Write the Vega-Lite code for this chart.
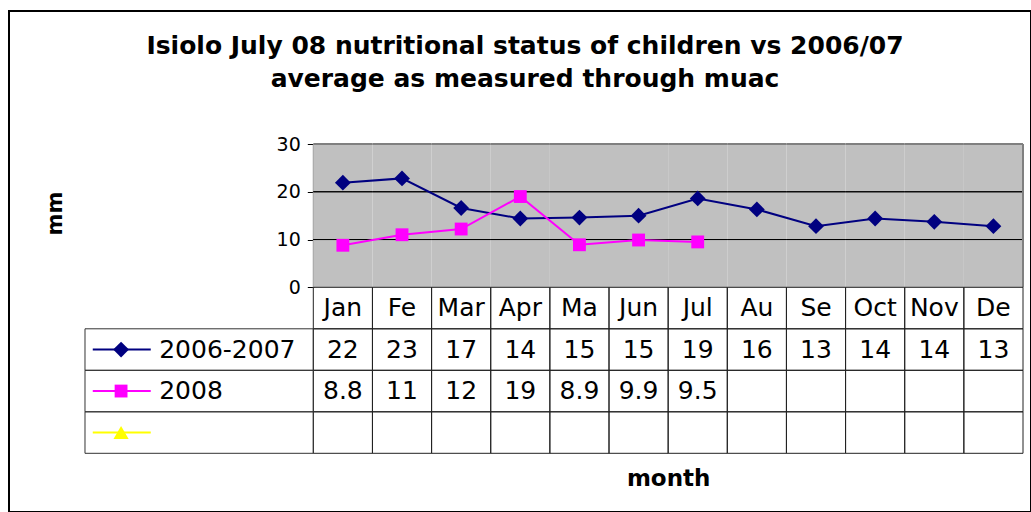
{
  "$schema": "https://vega.github.io/schema/vega-lite/v6.json",
  "width": 1022,
  "height": 501,
  "autosize": {"type": "none"},
  "padding": {"left": 9, "top": 11, "right": 0, "bottom": 0},
  "background": "#ffffff",
  "config": {
    "font": "DejaVu Sans",
    "view": {"stroke": "#000000", "strokeWidth": 2},
    "text": {"font": "DejaVu Sans", "color": "#000000"}
  },
  "title": {
    "text": ["Isiolo July 08  nutritional status of children vs 2006/07", "average as measured  through muac"],
    "fontSize": 25,
    "fontWeight": "bold",
    "font": "DejaVu Sans",
    "color": "#000000",
    "anchor": "middle",
    "frame": "group",
    "baseline": "top",
    "offset": -81,
    "lineHeight": 33,
    "dx": 5
  },
  "datasets": {
    "muac": [
      {"month": "Jan", "series": "2006-2007", "value": 21.9},
      {"month": "Fe", "series": "2006-2007", "value": 22.8},
      {"month": "Mar", "series": "2006-2007", "value": 16.6},
      {"month": "Apr", "series": "2006-2007", "value": 14.4},
      {"month": "Ma", "series": "2006-2007", "value": 14.6},
      {"month": "Jun", "series": "2006-2007", "value": 15.0},
      {"month": "Jul", "series": "2006-2007", "value": 18.6},
      {"month": "Au", "series": "2006-2007", "value": 16.3},
      {"month": "Se", "series": "2006-2007", "value": 12.8},
      {"month": "Oct", "series": "2006-2007", "value": 14.4},
      {"month": "Nov", "series": "2006-2007", "value": 13.7},
      {"month": "De", "series": "2006-2007", "value": 12.8},
      {"month": "Jan", "series": "2008", "value": 8.8},
      {"month": "Fe", "series": "2008", "value": 11},
      {"month": "Mar", "series": "2008", "value": 12.2},
      {"month": "Apr", "series": "2008", "value": 19},
      {"month": "Ma", "series": "2008", "value": 8.9},
      {"month": "Jun", "series": "2008", "value": 9.9},
      {"month": "Jul", "series": "2008", "value": 9.5}
    ],
    "keys": [
      {"series": "2006-2007", "label": "2006-2007"},
      {"series": "2008", "label": "2008"},
      {"series": "Series3", "label": ""}
    ]
  },
  "resolve": {"scale": {"x": "independent", "y": "independent"}},
  "layer": [
    {
      "data": {"name": "muac"},
      "transform": [{"filter": "datum.series === '2006-2007'"}],
      "mark": {"type": "rect", "fill": "#c0c0c0", "strokeWidth": 0},
      "encoding": {
        "x": {"field": "month", "type": "nominal", "sort": null, "axis": null,
              "scale": {"type": "band", "domain": ["Jan","Fe","Mar","Apr","Ma","Jun","Jul","Au","Se","Oct","Nov","De"], "range": [304.3, 1014], "paddingInner": 0, "paddingOuter": 0}},
        "y": {"datum": 0, "type": "quantitative",
              "scale": {"type": "linear", "domain": [0, 30], "range": [276.3, 133], "nice": false, "zero": false},
              "axis": {"orient": "left", "offset": -304.3, "values": [0, 10, 20, 30], "grid": false,
                       "tickSize": 6, "tickColor": "#000000", "tickWidth": 1,
                       "domainColor": "#808080", "domainWidth": 2,
                       "labelFontSize": 19, "labelColor": "#000000", "labelPadding": 7, "labelFont": "DejaVu Sans",
                       "title": "mm", "titleFontSize": 21, "titleFontWeight": "bold", "titleColor": "#000000", "titleFont": "DejaVu Sans",
                       "titleAngle": -90, "titleX": -258, "titleY": 202, "titleAlign": "center", "titleBaseline": "middle"}},
        "y2": {"datum": 30}
      }
    },
    {
      "data": {"name": "muac"},
      "transform": [{"filter": "datum.series === '2006-2007'"}],
      "mark": {"type": "rect", "filled": false, "stroke": "#000000", "strokeWidth": 1},
      "encoding": {
        "x": {"field": "month", "type": "nominal", "sort": null, "axis": null,
              "scale": {"type": "band", "domain": ["Jan","Fe","Mar","Apr","Ma","Jun","Jul","Au","Se","Oct","Nov","De"], "range": [304.3, 1014], "paddingInner": 0, "paddingOuter": 0}},
        "y": {"datum": 10, "type": "quantitative", "axis": null,
              "scale": {"type": "linear", "domain": [0, 30], "range": [276.3, 133], "nice": false, "zero": false}},
        "y2": {"datum": 10}
      }
    },
    {
      "data": {"name": "muac"},
      "transform": [{"filter": "datum.series === '2006-2007'"}],
      "mark": {"type": "rect", "filled": false, "stroke": "#000000", "strokeWidth": 1},
      "encoding": {
        "x": {"field": "month", "type": "nominal", "sort": null, "axis": null,
              "scale": {"type": "band", "domain": ["Jan","Fe","Mar","Apr","Ma","Jun","Jul","Au","Se","Oct","Nov","De"], "range": [304.3, 1014], "paddingInner": 0, "paddingOuter": 0}},
        "y": {"datum": 20, "type": "quantitative", "axis": null,
              "scale": {"type": "linear", "domain": [0, 30], "range": [276.3, 133], "nice": false, "zero": false}},
        "y2": {"datum": 20}
      }
    },
    {
      "data": {"name": "muac"},
      "transform": [{"filter": "datum.series === '2006-2007'"}],
      "mark": {"type": "rect", "filled": false, "stroke": "#808080", "strokeWidth": 2},
      "encoding": {
        "x": {"field": "month", "type": "nominal", "sort": null, "axis": null,
              "scale": {"type": "band", "domain": ["Jan","Fe","Mar","Apr","Ma","Jun","Jul","Au","Se","Oct","Nov","De"], "range": [304.3, 1014], "paddingInner": 0, "paddingOuter": 0}},
        "y": {"datum": 30, "type": "quantitative", "axis": null,
              "scale": {"type": "linear", "domain": [0, 30], "range": [276.3, 133], "nice": false, "zero": false}},
        "y2": {"datum": 30}
      }
    },
    {
      "data": {"values": [{}]},
      "mark": {"type": "rule", "stroke": "#808080", "strokeWidth": 2},
      "encoding": {
        "x": {"datum": "De", "type": "nominal", "bandPosition": 1, "axis": null,
              "scale": {"type": "band", "domain": ["Jan","Fe","Mar","Apr","Ma","Jun","Jul","Au","Se","Oct","Nov","De"], "range": [304.3, 1014], "paddingInner": 0, "paddingOuter": 0}},
        "y": {"datum": 0, "type": "quantitative", "axis": null,
              "scale": {"type": "linear", "domain": [0, 30], "range": [276.3, 133], "nice": false, "zero": false}},
        "y2": {"datum": 30}
      }
    },
    {
      "data": {"name": "muac"},
      "transform": [{"filter": "datum.series === '2006-2007'"}],
      "mark": {"type": "rect", "filled": false, "stroke": "#222222", "strokeWidth": 1},
      "encoding": {
        "x": {"field": "month", "type": "nominal", "sort": null,
              "scale": {"type": "band", "domain": ["Jan","Fe","Mar","Apr","Ma","Jun","Jul","Au","Se","Oct","Nov","De"], "range": [304.3, 1014], "paddingInner": 0, "paddingOuter": 0},
              "axis": {"orient": "bottom", "offset": -59, "labels": false, "ticks": false, "domain": false, "grid": false,
                       "title": "month", "titleFontSize": 23, "titleFontWeight": "bold", "titleColor": "#000000", "titleFont": "DejaVu Sans", "titlePadding": 14}},
        "y": {"datum": "hdr", "type": "nominal", "axis": null,
              "scale": {"type": "band", "domain": ["hdr","2006-2007","2008","Series3"], "range": [276.3, 442.3], "paddingInner": 0, "paddingOuter": 0}}
      }
    },
    {
      "data": {"name": "muac"},
      "transform": [{"filter": "datum.series === '2006-2007'"}],
      "mark": {"type": "rect", "filled": false, "stroke": "#222222", "strokeWidth": 1},
      "encoding": {
        "x": {"field": "month", "type": "nominal", "sort": null, "axis": null,
              "scale": {"type": "band", "domain": ["Jan","Fe","Mar","Apr","Ma","Jun","Jul","Au","Se","Oct","Nov","De"], "range": [304.3, 1014], "paddingInner": 0, "paddingOuter": 0}},
        "y": {"datum": "2006-2007", "type": "nominal", "axis": null,
              "scale": {"type": "band", "domain": ["hdr","2006-2007","2008","Series3"], "range": [276.3, 442.3], "paddingInner": 0, "paddingOuter": 0}}
      }
    },
    {
      "data": {"name": "muac"},
      "transform": [{"filter": "datum.series === '2006-2007'"}],
      "mark": {"type": "rect", "filled": false, "stroke": "#222222", "strokeWidth": 1},
      "encoding": {
        "x": {"field": "month", "type": "nominal", "sort": null, "axis": null,
              "scale": {"type": "band", "domain": ["Jan","Fe","Mar","Apr","Ma","Jun","Jul","Au","Se","Oct","Nov","De"], "range": [304.3, 1014], "paddingInner": 0, "paddingOuter": 0}},
        "y": {"datum": "2008", "type": "nominal", "axis": null,
              "scale": {"type": "band", "domain": ["hdr","2006-2007","2008","Series3"], "range": [276.3, 442.3], "paddingInner": 0, "paddingOuter": 0}}
      }
    },
    {
      "data": {"name": "muac"},
      "transform": [{"filter": "datum.series === '2006-2007'"}],
      "mark": {"type": "rect", "filled": false, "stroke": "#222222", "strokeWidth": 1},
      "encoding": {
        "x": {"field": "month", "type": "nominal", "sort": null, "axis": null,
              "scale": {"type": "band", "domain": ["Jan","Fe","Mar","Apr","Ma","Jun","Jul","Au","Se","Oct","Nov","De"], "range": [304.3, 1014], "paddingInner": 0, "paddingOuter": 0}},
        "y": {"datum": "Series3", "type": "nominal", "axis": null,
              "scale": {"type": "band", "domain": ["hdr","2006-2007","2008","Series3"], "range": [276.3, 442.3], "paddingInner": 0, "paddingOuter": 0}}
      }
    },
    {
      "data": {"name": "keys"},
      "mark": {"type": "rect", "filled": false, "stroke": "#333333", "strokeWidth": 1},
      "encoding": {
        "x": {"datum": 0, "type": "quantitative", "axis": null,
              "scale": {"type": "linear", "domain": [0, 1], "range": [76, 304.3], "nice": false, "zero": false}},
        "x2": {"datum": 1},
        "y": {"field": "series", "type": "nominal", "sort": null, "axis": null,
              "scale": {"type": "band", "domain": ["hdr","2006-2007","2008","Series3"], "range": [276.3, 442.3], "paddingInner": 0, "paddingOuter": 0}}
      }
    },
    {
      "data": {"name": "muac"},
      "mark": {"type": "line", "strokeWidth": 2},
      "encoding": {
        "x": {"field": "month", "type": "nominal", "sort": null, "axis": null,
              "scale": {"type": "band", "domain": ["Jan","Fe","Mar","Apr","Ma","Jun","Jul","Au","Se","Oct","Nov","De"], "range": [304.3, 1014], "paddingInner": 0, "paddingOuter": 0}},
        "y": {"field": "value", "type": "quantitative", "axis": null,
              "scale": {"type": "linear", "domain": [0, 30], "range": [276.3, 133], "nice": false, "zero": false}},
        "color": {"field": "series", "type": "nominal", "legend": null,
                  "scale": {"domain": ["2006-2007", "2008", "Series3"], "range": ["#000080", "#ff00ff", "#ffff00"]}}
      }
    },
    {
      "data": {"name": "muac"},
      "mark": {"type": "point", "filled": true, "opacity": 1},
      "encoding": {
        "x": {"field": "month", "type": "nominal", "sort": null, "axis": null,
              "scale": {"type": "band", "domain": ["Jan","Fe","Mar","Apr","Ma","Jun","Jul","Au","Se","Oct","Nov","De"], "range": [304.3, 1014], "paddingInner": 0, "paddingOuter": 0}},
        "y": {"field": "value", "type": "quantitative", "axis": null,
              "scale": {"type": "linear", "domain": [0, 30], "range": [276.3, 133], "nice": false, "zero": false}},
        "color": {"field": "series", "type": "nominal", "legend": null,
                  "scale": {"domain": ["2006-2007", "2008", "Series3"], "range": ["#000080", "#ff00ff", "#ffff00"]}},
        "shape": {"field": "series", "type": "nominal", "legend": null,
                  "scale": {"domain": ["2006-2007", "2008", "Series3"], "range": ["diamond", "square", "triangle-up"]}},
        "size": {"field": "series", "type": "nominal", "legend": null,
                 "scale": {"type": "ordinal", "domain": ["2006-2007", "2008", "Series3"], "range": [250, 165, 230]}}
      }
    },
    {
      "data": {"name": "muac"},
      "transform": [{"filter": "datum.series === '2006-2007'"}],
      "mark": {"type": "text", "fontSize": 25, "align": "center", "baseline": "middle", "color": "#000000"},
      "encoding": {
        "x": {"field": "month", "type": "nominal", "sort": null, "axis": null,
              "scale": {"type": "band", "domain": ["Jan","Fe","Mar","Apr","Ma","Jun","Jul","Au","Se","Oct","Nov","De"], "range": [304.3, 1014], "paddingInner": 0, "paddingOuter": 0}},
        "y": {"datum": "hdr", "type": "nominal", "axis": null,
              "scale": {"type": "band", "domain": ["hdr","2006-2007","2008","Series3"], "range": [276.3, 442.3], "paddingInner": 0, "paddingOuter": 0}},
        "text": {"field": "month", "type": "nominal"}
      }
    },
    {
      "data": {"name": "muac"},
      "mark": {"type": "text", "fontSize": 25, "align": "center", "baseline": "middle", "color": "#000000"},
      "encoding": {
        "x": {"field": "month", "type": "nominal", "sort": null, "axis": null,
              "scale": {"type": "band", "domain": ["Jan","Fe","Mar","Apr","Ma","Jun","Jul","Au","Se","Oct","Nov","De"], "range": [304.3, 1014], "paddingInner": 0, "paddingOuter": 0}},
        "y": {"field": "series", "type": "nominal", "sort": null, "axis": null,
              "scale": {"type": "band", "domain": ["hdr","2006-2007","2008","Series3"], "range": [276.3, 442.3], "paddingInner": 0, "paddingOuter": 0}},
        "text": {"field": "value", "type": "quantitative", "format": ".2r"}
      }
    },
    {
      "data": {"name": "keys"},
      "mark": {"type": "rule", "strokeWidth": 2},
      "encoding": {
        "x": {"datum": 0.034, "type": "quantitative", "axis": null,
              "scale": {"type": "linear", "domain": [0, 1], "range": [76, 304.3], "nice": false, "zero": false}},
        "x2": {"datum": 0.288},
        "y": {"field": "series", "type": "nominal", "sort": null, "axis": null,
              "scale": {"type": "band", "domain": ["hdr","2006-2007","2008","Series3"], "range": [276.3, 442.3], "paddingInner": 0, "paddingOuter": 0}},
        "color": {"field": "series", "type": "nominal", "legend": null,
                  "scale": {"domain": ["2006-2007", "2008", "Series3"], "range": ["#000080", "#ff00ff", "#ffff00"]}}
      }
    },
    {
      "data": {"name": "keys"},
      "mark": {"type": "point", "filled": true, "opacity": 1},
      "encoding": {
        "x": {"datum": 0.158, "type": "quantitative", "axis": null,
              "scale": {"type": "linear", "domain": [0, 1], "range": [76, 304.3], "nice": false, "zero": false}},
        "y": {"field": "series", "type": "nominal", "sort": null, "axis": null,
              "scale": {"type": "band", "domain": ["hdr","2006-2007","2008","Series3"], "range": [276.3, 442.3], "paddingInner": 0, "paddingOuter": 0}},
        "color": {"field": "series", "type": "nominal", "legend": null,
                  "scale": {"domain": ["2006-2007", "2008", "Series3"], "range": ["#000080", "#ff00ff", "#ffff00"]}},
        "shape": {"field": "series", "type": "nominal", "legend": null,
                  "scale": {"domain": ["2006-2007", "2008", "Series3"], "range": ["diamond", "square", "triangle-up"]}},
        "size": {"field": "series", "type": "nominal", "legend": null,
                 "scale": {"type": "ordinal", "domain": ["2006-2007", "2008", "Series3"], "range": [250, 165, 230]}}
      }
    },
    {
      "data": {"name": "keys"},
      "mark": {"type": "text", "fontSize": 25, "align": "left", "baseline": "middle", "color": "#000000"},
      "encoding": {
        "x": {"datum": 0.325, "type": "quantitative", "axis": null,
              "scale": {"type": "linear", "domain": [0, 1], "range": [76, 304.3], "nice": false, "zero": false}},
        "y": {"field": "series", "type": "nominal", "sort": null, "axis": null,
              "scale": {"type": "band", "domain": ["hdr","2006-2007","2008","Series3"], "range": [276.3, 442.3], "paddingInner": 0, "paddingOuter": 0}},
        "text": {"field": "label", "type": "nominal"}
      }
    }
  ]
}
